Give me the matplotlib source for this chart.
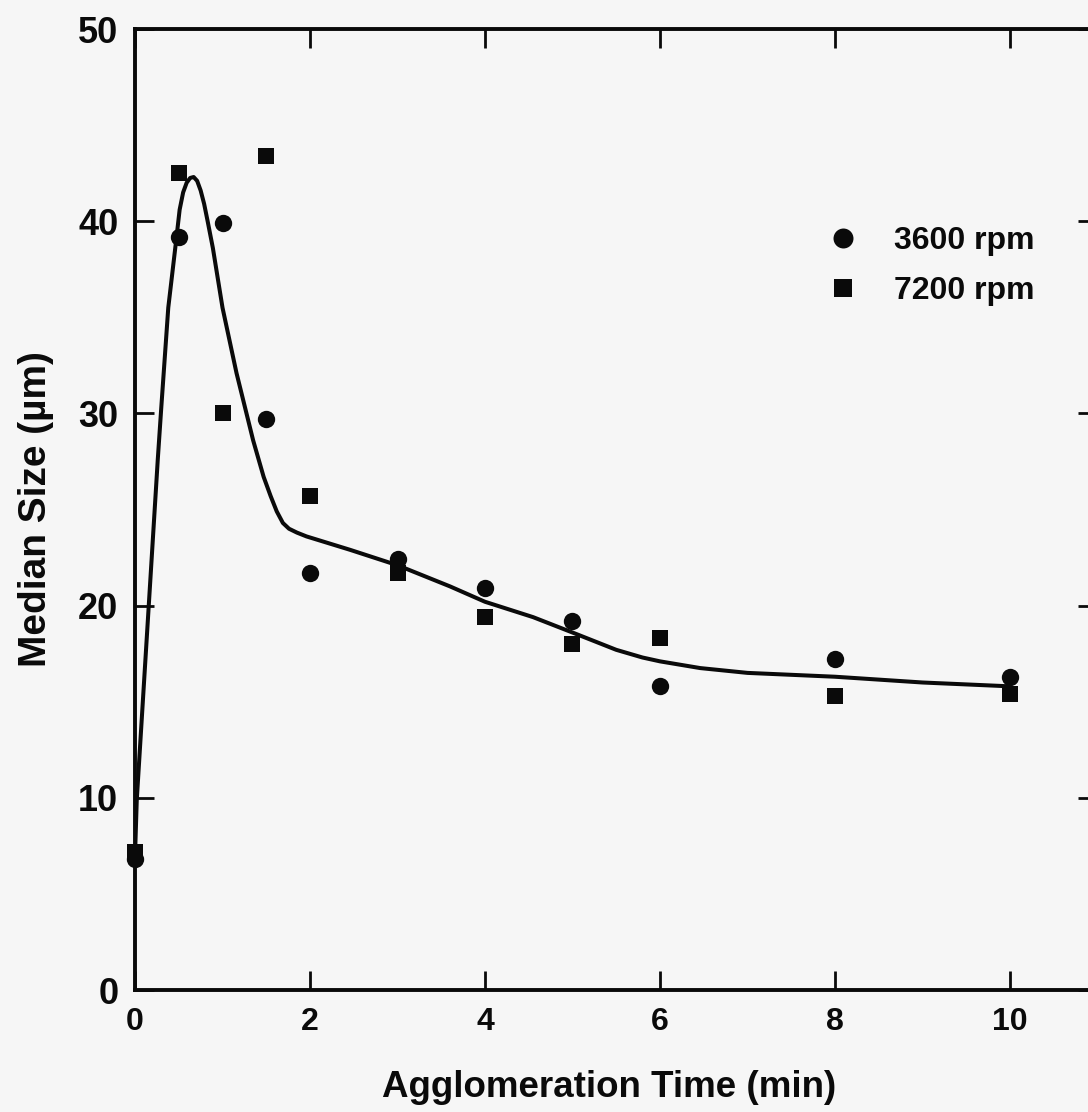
import matplotlib
matplotlib.use("Agg")
import matplotlib.pyplot as plt

# Median particle size vs agglomeration time
time_3600 = [0, 0.5, 1, 1.5, 2, 3, 4, 5, 6, 8, 10]
size_3600 = [6.8, 39.2, 39.9, 29.7, 21.7, 22.4, 20.9, 19.2, 15.8, 17.2, 16.3]

time_7200 = [0, 0.5, 1, 1.5, 2, 3, 4, 5, 6, 8, 10]
size_7200 = [7.2, 42.5, 30.0, 43.4, 25.7, 21.7, 19.4, 18.0, 18.3, 15.3, 15.4]

# Fitted trend curve
fit_time = [0.0, 0.02, 0.26, 0.30, 0.38, 0.47, 0.51, 0.55, 0.59, 0.63, 0.67,
            0.71, 0.75, 0.79, 0.83, 0.89, 1.00, 1.16, 1.35, 1.47, 1.55, 1.62,
            1.69, 1.76, 1.85, 1.96, 2.46, 3.0, 3.6, 4.0, 4.55, 5.0, 5.5, 5.8,
            6.0, 6.46, 7.0, 8.0, 9.0, 10.0]
fit_size = [7.0, 9.9, 27.6, 30.3, 35.5, 39.0, 40.6, 41.5, 42.0, 42.25, 42.3,
            42.1, 41.6, 40.9, 40.0, 38.6, 35.5, 32.1, 28.6, 26.7, 25.7, 24.9,
            24.3, 24.0, 23.8, 23.6, 22.9, 22.1, 21.0, 20.2, 19.4, 18.6, 17.7, 17.3,
            17.1, 16.75, 16.5, 16.3, 16.0, 15.8]

x_ticks = [0, 2, 4, 6, 8, 10]
y_ticks = [0, 10, 20, 30, 40, 50]

bg = "#f6f6f6"
ink = "#0a0a0a"

plt.rcParams["font.family"] = ["Liberation Sans", "DejaVu Sans"]

fig = plt.figure(figsize=(10.88, 11.12), dpi=100, facecolor=bg)
ax = fig.add_axes([0.1241, 0.1097, 0.8846, 0.8642], facecolor=bg)

ax.plot(fit_time, fit_size, color=ink, lw=2.9, solid_capstyle="round",
        solid_joinstyle="round", zorder=2)
ax.plot(time_3600, size_3600, "o", color=ink, ms=12.5, mew=0, zorder=3,
        label="3600 rpm", clip_on=False)
ax.plot(time_7200, size_7200, "s", color=ink, ms=11.5, mew=0, zorder=3,
        label="7200 rpm", clip_on=False)

ax.set_xlim(0, 11)
ax.set_ylim(0, 50)
ax.set_xticks(x_ticks)
ax.set_yticks(y_ticks)

for s in ax.spines.values():
    s.set_linewidth(2.8)
    s.set_color(ink)

ax.tick_params(axis="both", direction="in", length=14, width=2.0, colors=ink,
               top=True, right=True)
ax.tick_params(axis="x", labelsize=23, pad=12)
ax.tick_params(axis="y", labelsize=26, pad=12)
for lab in ax.get_xticklabels() + ax.get_yticklabels():
    lab.set_fontweight("bold")

ax.set_xlabel("Agglomeration Time (min)", fontsize=26.5, fontweight="bold",
              color=ink, labelpad=24)
ax.xaxis.set_label_coords(0.4925, -0.083)
ax.set_ylabel("Median Size (\u00b5m)", fontsize=28, fontweight="bold",
              color=ink, labelpad=17)

leg = ax.legend(loc="upper left", bbox_to_anchor=(0.706, 0.808), frameon=False,
                fontsize=23, handletextpad=1.1, labelspacing=0.61,
                handlelength=1.0, borderaxespad=0, markerscale=1.15)
for t in leg.get_texts():
    t.set_fontweight("bold")
    t.set_color(ink)

fig.savefig("out.png", dpi=100, facecolor=bg)
